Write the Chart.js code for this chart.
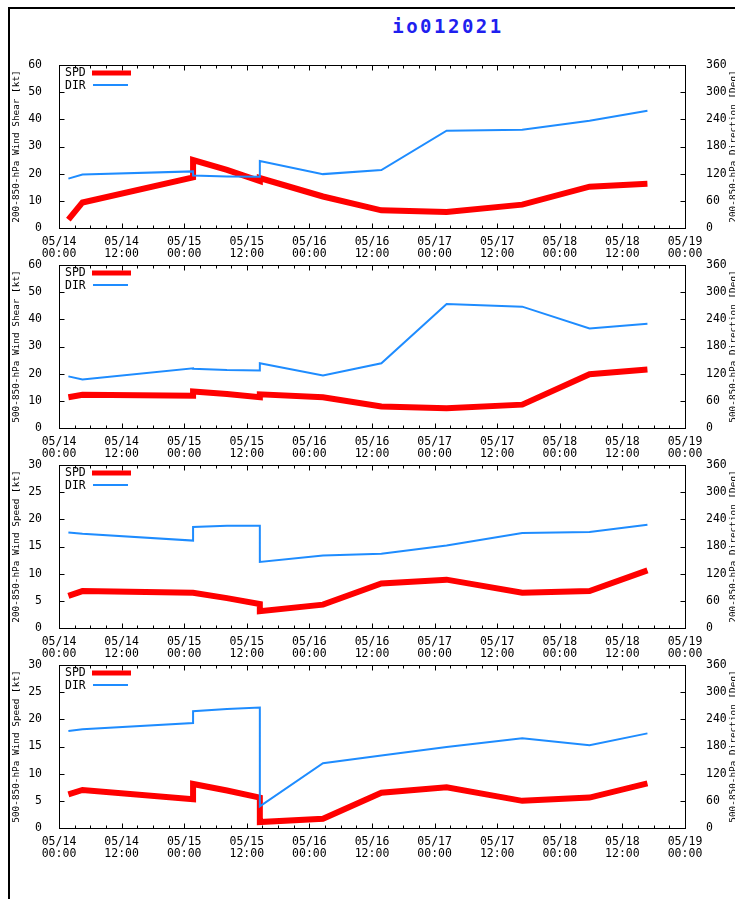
<!DOCTYPE html>
<html>
<head>
<meta charset="utf-8">
<script src="https://cdn.jsdelivr.net/npm/chart.js@4.4.1/dist/chart.umd.min.js"></script>
<style>
html, body { margin: 0; padding: 0; background: #fff; }
body { width: 735px; height: 899px; position: relative; overflow: hidden; }
#frame { position: absolute; left: 8px; top: 7px; width: 900px; height: 1000px;
         border-left: 2px solid #000; border-top: 2px solid #000; }
#title { position: absolute; top: 15px; left: 0; width: 896px; text-align: center;
         font: bold 19px 'DejaVu Sans Mono'; letter-spacing: 2.5px; color: #1f1fef; }
canvas { position: absolute; left: 0; }
</style>
</head>
<body>
<div id="frame"></div>
<div id="title">io012021</div>
<canvas id="c0" width="735" height="217" style="top:46px"></canvas>
<canvas id="c1" width="735" height="217" style="top:246px"></canvas>
<canvas id="c2" width="735" height="217" style="top:446px"></canvas>
<canvas id="c3" width="735" height="217" style="top:646px"></canvas>
<script>
// hours since 05/14 00:00 (two points at the same time make the vertical jumps)
const hours = [1.8, 4.5, 25.7, 25.7, 32.2, 38.5, 38.5, 50.6, 61.8, 74.3, 88.8, 101.7, 112.8];

// x axis tick labels, every 12 hours
const tickHours = [0, 12, 24, 36, 48, 60, 72, 84, 96, 108, 120];
const tickDays = ['05/14', '05/14', '05/15', '05/15', '05/16', '05/16', '05/17', '05/17', '05/18', '05/18', '05/19'];
const tickTimes = ['00:00', '12:00', '00:00', '12:00', '00:00', '12:00', '00:00', '12:00', '00:00', '12:00', '00:00'];

// 200-850 hPa shear
const shear200Spd = [3.1, 9.4, 18.6, 25.0, 21.4, 17.3, 18.4, 11.6, 6.5, 5.9, 8.6, 15.2, 16.3];
const shear200Dir = [109, 118, 125, 116, 114, 113, 148, 119, 128, 215, 217, 237, 259];
// 500-850 hPa shear
const shear500Spd = [11.3, 12.2, 11.9, 13.4, 12.5, 11.3, 12.4, 11.3, 7.9, 7.3, 8.6, 19.8, 21.5];
const shear500Dir = [114, 107, 132, 131, 128, 127, 143, 116, 143, 274, 268, 220, 230];
// 200-850 hPa wind
const wind200Spd = [5.9, 6.8, 6.5, 6.5, 5.5, 4.4, 3.1, 4.3, 8.2, 8.9, 6.5, 6.8, 10.6];
const wind200Dir = [211, 208, 193, 223, 226, 226, 146, 160, 164, 182, 210, 212, 228];
// 500-850 hPa wind
const wind500Spd = [6.2, 7.0, 5.3, 8.1, 6.9, 5.6, 1.1, 1.7, 6.5, 7.5, 5.0, 5.6, 8.2];
const wind500Dir = [214, 218, 232, 258, 263, 266, 48, 143, 160, 179, 198, 183, 209];

const leftTitles = ['200-850-hPa Wind Shear [kt]', '500-850-hPa Wind Shear [kt]',
                    '200-850-hPa Wind Speed [kt]', '500-850-hPa Wind Speed [kt]'];
const rightTitles = ['200-850-hPa Direction [Deg]', '500-850-hPa Direction [Deg]',
                     '200-850-hPa Direction [Deg]', '500-850-hPa Direction [Deg]'];
const spdMax = [60, 60, 30, 30];
const spdStep = [10, 10, 5, 5];

const MONO = 'DejaVu Sans Mono';
const RED = '#ff0000';
const BLUE = '#1e8cff';

function toPoints(vals) {
    return vals.map((v, i) => ({ x: hours[i], y: v }));
}

// gnuplot look: frame, inward ticks, legend in the corner, axis titles
const gnuplotFrame = {
    id: 'gnuplotFrame',
    afterDraw(chart, args, opts) {
        const { ctx, chartArea: a, scales } = chart;
        const seg = (x1, y1, x2, y2) => { ctx.beginPath(); ctx.moveTo(x1, y1); ctx.lineTo(x2, y2); ctx.stroke(); };
        ctx.save();
        ctx.strokeStyle = '#000';
        ctx.lineWidth = 1;
        const L = Math.round(a.left) + 0.5, R = Math.round(a.right) + 0.5;
        const T = Math.round(a.top) + 0.5, B = Math.round(a.bottom) + 0.5;
        ctx.strokeRect(L, T, R - L, B - T);

        for (let h = 0; h <= 120; h += 3) {
            const x = Math.round(scales.x.getPixelForValue(h)) + 0.5;
            const len = h % 12 === 0 ? 5 : 3;
            seg(x, B, x, B - len);
            seg(x, T, x, T + len);
        }
        scales.y.ticks.forEach(t => {
            const y = Math.round(scales.y.getPixelForValue(t.value)) + 0.5;
            seg(L, y, L + 5, y);
        });
        scales.y2.ticks.forEach(t => {
            const y = Math.round(scales.y2.getPixelForValue(t.value)) + 0.5;
            seg(R, y, R - 5, y);
        });

        // legend
        const ds = chart.data.datasets;
        ctx.font = '11.5px ' + MONO;
        ctx.fillStyle = '#000';
        ctx.textBaseline = 'middle';
        ctx.textAlign = 'left';
        ctx.fillText(ds[0].label, a.left + 6, a.top + 8);
        ctx.fillText(ds[1].label, a.left + 6, a.top + 21);
        ctx.strokeStyle = ds[0].borderColor;
        ctx.lineWidth = 5;
        seg(a.left + 33, a.top + 8, a.left + 72, a.top + 8);
        ctx.strokeStyle = ds[1].borderColor;
        ctx.lineWidth = 2;
        seg(a.left + 34, a.top + 20, a.left + 69, a.top + 20);

        // axis titles, both read bottom to top
        ctx.font = '9.4px ' + MONO;
        ctx.textAlign = 'center';
        const mid = (a.top + a.bottom) / 2;
        [[17, opts.leftTitle], [734, opts.rightTitle]].forEach(([x, txt]) => {
            ctx.save();
            ctx.translate(x, mid);
            ctx.rotate(-Math.PI / 2);
            ctx.fillText(txt, 0, 0);
            ctx.restore();
        });
        ctx.restore();
    }
};

const panels = [
    [shear200Spd, shear200Dir],
    [shear500Spd, shear500Dir],
    [wind200Spd, wind200Dir],
    [wind500Spd, wind500Dir]
];

panels.forEach(([spd, dir], p) => {
    const tickFont = { family: MONO, size: 11.5, lineHeight: '12px' };
    new Chart(document.getElementById('c' + p), {
        type: 'line',
        data: {
            datasets: [
                { label: 'SPD', data: toPoints(spd), yAxisID: 'y', borderColor: RED, borderWidth: 6,
                  pointRadius: 0, borderJoinStyle: 'miter', borderCapStyle: 'butt', order: 1 },
                { label: 'DIR', data: toPoints(dir), yAxisID: 'y2', borderColor: BLUE, borderWidth: 2,
                  pointRadius: 0, order: 0 }
            ]
        },
        options: {
            responsive: false,
            animation: false,
            devicePixelRatio: 1,
            layout: { padding: { top: 15, left: 0, right: 0, bottom: 0 } },
            plugins: {
                legend: { display: false },
                tooltip: { enabled: false },
                gnuplotFrame: { leftTitle: leftTitles[p], rightTitle: rightTitles[p] }
            },
            scales: {
                x: {
                    type: 'linear', min: 0, max: 120, position: 'bottom',
                    afterBuildTicks: axis => { axis.ticks = tickHours.map(v => ({ value: v })); },
                    afterFit: s => { s.height = 35; },
                    grid: { display: false }, border: { display: false },
                    ticks: {
                        autoSkip: false, maxRotation: 0, padding: 0, color: '#000', font: tickFont,
                        callback: (v, i) => [tickDays[i], tickTimes[i]]
                    }
                },
                y: {
                    position: 'left', min: 0, max: spdMax[p],
                    afterFit: s => { s.width = 59; },
                    grid: { display: false }, border: { display: false },
                    ticks: { stepSize: spdStep[p], padding: 9, color: '#000', font: tickFont }
                },
                y2: {
                    position: 'right', min: 0, max: 360,
                    afterFit: s => { s.width = 50; },
                    grid: { display: false }, border: { display: false },
                    ticks: { stepSize: 60, padding: 13, color: '#000', font: tickFont }
                }
            }
        },
        plugins: [gnuplotFrame]
    });
});
</script>
</body>
</html>
